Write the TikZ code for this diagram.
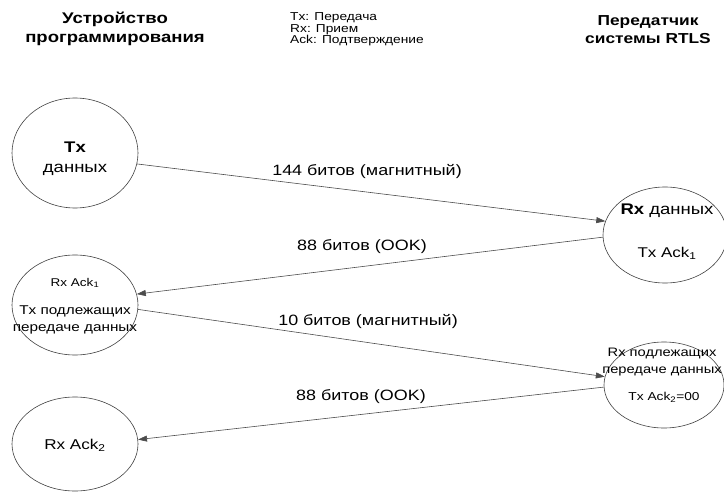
\documentclass[tikz,border=0pt]{standalone}
\usepackage{fontspec}
\setmainfont{Liberation Sans}[FakeStretch=1.2]
\usetikzlibrary{shapes.geometric,arrows.meta}
\begin{document}
\begin{tikzpicture}[x=1bp,y=-1bp,
  st/.style={draw=black!75, line width=0.6bp, ellipse, inner sep=0pt},
  conn/.style={draw=black!70, line width=0.6bp},
  arr/.style={conn, -{Triangle[length=9bp,width=6bp]}},
  txt/.style={inner sep=0pt, align=center},
  lbl/.style={font=\fontsize{15}{17}\selectfont, inner sep=0pt},
  hdr/.style={font=\bfseries\fontsize{15.5}{19}\selectfont, align=center, inner sep=0pt},
  leg/.style={font=\fontsize{11.5}{12}\selectfont, align=left, anchor=north west, inner sep=0pt}]
\useasboundingbox (0,0) rectangle (724,498);
% headers
\node[hdr] (h1) at (115,29) {Устройство\\программирования};
\node[hdr, font=\bfseries\fontsize{14.5}{18}\selectfont] (h2) at (648,30) {Передатчик\\системы RTLS};
\node[leg] (lg) at (290,12) {Tx: Передача\\Rx: Прием\\Ack: Подтверждение};
% ellipses
\node[st, minimum width=126bp, minimum height=110bp] (e1) at (75,153) {};
\node[st, minimum width=126bp, minimum height=100bp] (e2) at (75,305) {};
\node[st, minimum width=126bp, minimum height=94bp] (e3) at (75,444) {};
\node[st, minimum width=124bp, minimum height=96bp] (r1) at (665,235) {};
\node[st, minimum width=120bp, minimum height=86bp] (r2) at (664,385) {};
% ellipse texts
\node[txt, font=\fontsize{15.5}{20}\selectfont] (e1t) at (75,159) {\textbf{Tx}\\данных};
\node[txt, font=\fontsize{11.3}{12}\selectfont] (e2a) at (75,283) {Rx Ack\textsubscript{1}};
\node[txt, font=\fontsize{12.8}{17}\selectfont] (e2b) at (75,320) {Tx подлежащих\\передаче данных};
\node[txt, font=\fontsize{14.3}{16}\selectfont] (e3t) at (75,445) {Rx Ack\textsubscript{2}};
\node[txt, font=\fontsize{15.5}{16}\selectfont] (r1a) at (667,211) {\textbf{Rx} данных};
\node[txt, font=\fontsize{14.2}{16}\selectfont] (r1b) at (667,253) {Tx Ack\textsubscript{1}};
\node[txt, font=\fontsize{12.3}{17}\selectfont] (r2a) at (662,362) {Rx подлежащих\\передаче данных};
\node[txt, font=\fontsize{11.5}{12}\selectfont] (r2b) at (664,397) {Tx Ack\textsubscript{2}=00};
% connectors
\draw[arr] (e1.-10) -- (r1.167);
\draw[arr] (r1.182) -- (e2.10);
\draw[arr] (e2.-4.5) -- (r2.172);
\draw[arr] (r2.182) -- (e3.4);
% labels
\node[lbl] (l1) at (367,172) {144 битов (магнитный)};
\node[lbl] (l2) at (362,247) {88 битов (OOK)};
\node[lbl] (l3) at (368,322) {10 битов (магнитный)};
\node[lbl] (l4) at (361,397) {88 битов (OOK)};
\end{tikzpicture}
\end{document}
